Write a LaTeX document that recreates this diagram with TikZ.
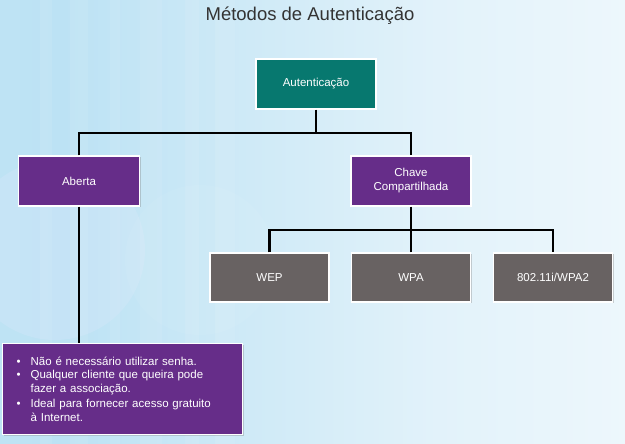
\documentclass[tikz,border=0pt]{standalone}
\usepackage{fontspec}
\setmainfont{Liberation Sans}
\usetikzlibrary{shadows}
\definecolor{bgA}{HTML}{C9E8F7}
\definecolor{bgB}{HTML}{BCE2F4}
\definecolor{bgC}{HTML}{E2F2FA}
\definecolor{teal}{HTML}{07786F}
\definecolor{purp}{HTML}{662D89}
\definecolor{greyb}{HTML}{686262}
\definecolor{titlec}{HTML}{333333}
\pgfdeclarehorizontalshading{bgshade}{100bp}{color(0bp)=(bgA); color(30bp)=(bgB); color(60bp)=(bgC); color(100bp)=(white)}
\newcommand{\bulitem}{\hspace*{12pt}\makebox[14pt][l]{\textbullet}}
\newcommand{\contitem}{\hspace*{26pt}}
\begin{document}
\begin{tikzpicture}[x=1pt,y=-1pt,
  box/.style={draw=white, line width=1.2pt, minimum width=120pt, minimum height=50pt,
    text=white, font=\fontsize{11.5}{14}\selectfont, align=center, inner sep=2pt,
    drop shadow={opacity=0.35, shadow xshift=1pt, shadow yshift=-1.2pt}},
  tealbox/.style={box, fill=teal},
  purpbox/.style={box, fill=purp},
  greybox/.style={box, fill=greyb, minimum width=119pt, minimum height=49pt},
  conn/.style={line width=2.6pt, black}
]
\useasboundingbox (0,0) rectangle (625,444);
\shade[shading=bgshade] (0,0) rectangle (625,444);
% faint decorative stripes
\foreach \xa/\w in {40/12, 70/18, 110/10, 140/22, 185/14, 215/20}{
  \fill[white, opacity=0.08] (\xa,0) rectangle ++(\w,444);
}
\fill[bgB!80!blue!30, opacity=0.25] (55,250) circle (90);
\fill[white, opacity=0.05] (200,260) circle (75);

\node[font=\fontsize{18.5}{20}\selectfont, text=titlec] (title) at (310,16) {Métodos de Autenticação};

\node[tealbox] (auth) at (316,84) {Autenticação};
\node[purpbox, minimum width=121pt] (aberta) at (79,181) {Aberta};
\node[purpbox] (chave) at (411,181) {Chave\\Compartilhada};
\node[greybox] (wep) at (269.5,277.5) {WEP};
\node[greybox] (wpa) at (411,277.5) {WPA};
\node[greybox] (wpa2) at (553,277.5) {802.11i/WPA2};

\node[purpbox, minimum width=240pt, minimum height=91pt, align=left, anchor=north west,
  inner sep=0pt, text width=236pt, font=\fontsize{11.5}{13.6}\selectfont] (list) at (2,343)
  {\bulitem Não é necessário utilizar senha.\\
   \bulitem Qualquer cliente que queira pode\\
   \contitem fazer a associação.\\[1.5pt]
   \bulitem Ideal para fornecer acesso gratuito\\
   \contitem à Internet.\\[11pt]};

\coordinate (j1) at (316,133);
\coordinate (j2) at (411,230);
\draw[conn] (auth.south) -- (j1);
\draw[conn] (aberta.north) |- (j1) -| (chave.north);
\draw[conn] (chave.south) -- (j2);
\draw[conn] (wep.north) |- (j2) -| (wpa2.north);
\draw[conn] (wpa.north) -- (j2);
\draw[conn] (aberta.south) -- (aberta.south |- list.north);
\end{tikzpicture}
\end{document}
